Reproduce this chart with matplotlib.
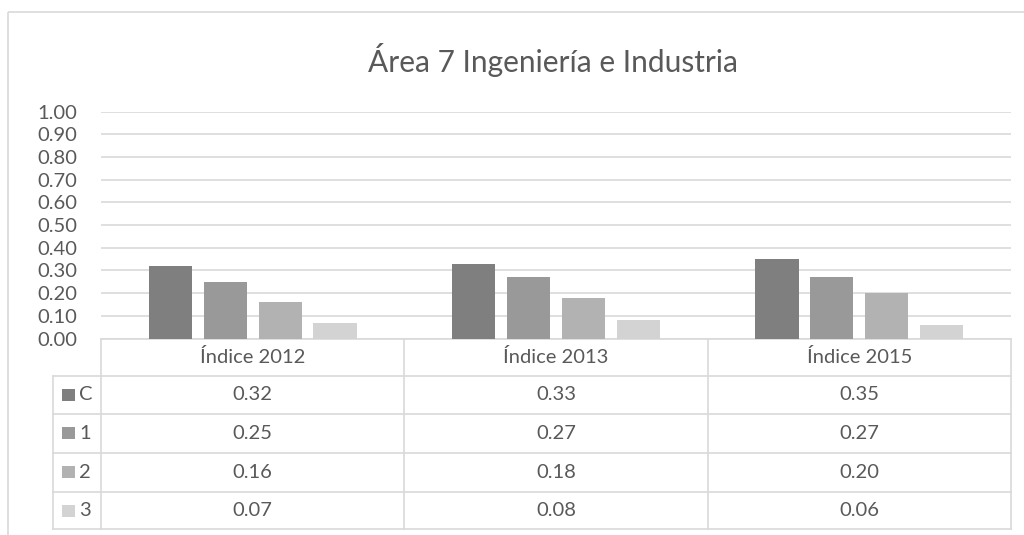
import matplotlib.pyplot as plt
from matplotlib.patches import Rectangle
from matplotlib.transforms import blended_transform_factory
import numpy as np

plt.rcParams['font.family'] = ['Lato', 'DejaVu Sans']

# data
title = 'Área 7 Ingeniería e Industria'
categories = ['Índice 2012', 'Índice 2013', 'Índice 2015']
series = ['C', '1', '2', '3']
values_c = [0.32, 0.33, 0.35]
values_1 = [0.25, 0.27, 0.27]
values_2 = [0.16, 0.18, 0.20]
values_3 = [0.07, 0.08, 0.06]
yticks = [0.0, 0.1, 0.2, 0.3, 0.4, 0.5, 0.6, 0.7, 0.8, 0.9, 1.0]

colors = ['#7f7f7f', '#999999', '#b2b2b2', '#d3d3d3']
text_color = '#595959'
line_color = '#d9d9d9'

W, H = 1024, 535
fig = plt.figure(figsize=(W / 100, H / 100), dpi=100)

# background axes in pixel coordinates (border, title, data table)
bg = fig.add_axes([0, 0, 1, 1])
bg.set_xlim(0, W)
bg.set_ylim(H, 0)
bg.axis('off')
bg.add_patch(Rectangle((8, 12), 1040, 540, fill=False, edgecolor=line_color, lw=1.2))
bg.text(553, 60, title, ha='center', va='center', fontsize=21.5, color=text_color)

# plot area
left, right, top, base = 101, 1011, 111.7, 338.5
ax = fig.add_axes([left / W, 1 - base / H, (right - left) / W, (base - top) / H])
ax.patch.set_alpha(0)
x = np.arange(len(categories))
step, width = 0.181, 0.142
all_values = [values_c, values_1, values_2, values_3]
for i, (vals, col) in enumerate(zip(all_values, colors)):
    ax.bar(x + (i - 1.5) * step, vals, width=width, color=col, zorder=3)

ax.set_xlim(-0.5, len(categories) - 0.5)
ax.set_ylim(0, 1)
ax.set_yticks(yticks)
ax.set_yticklabels([f'{t:.2f}' for t in yticks])
ax.set_xticks([])
ax.yaxis.grid(True, color=line_color, lw=1.2)
ax.set_axisbelow(True)
ax.tick_params(axis='y', length=0, pad=17, labelsize=14.5, labelcolor=text_color)
for s in ax.spines.values():
    s.set_visible(False)

# data table
tr = blended_transform_factory(ax.transData, bg.transData)
rows = [339, 375.7, 414, 452.7, 491.7, 529.3]
col_edges = [-0.5, 0.5, 1.5, 2.5]
leg_left = 53
for y in rows:
    x0 = left if y == rows[0] else leg_left
    bg.plot([x0, right], [y, y], color=line_color, lw=1.2)
bg.plot([leg_left, leg_left], [rows[1], rows[-1]], color=line_color, lw=1.2)
for ce in col_edges:
    bg.plot([ce, ce], [rows[0], rows[-1]], color=line_color, lw=1.2, transform=tr)

for j, cat in enumerate(categories):
    bg.text(j, (rows[0] + rows[1]) / 2, cat, ha='center', va='center', fontsize=14.5,
            color=text_color, transform=tr)
for i, (name, vals, col) in enumerate(zip(series, all_values, colors)):
    yc = (rows[i + 1] + rows[i + 2]) / 2
    bg.add_patch(Rectangle((62, yc - 6), 13, 12, color=col, lw=0))
    bg.text(79, yc, name, ha='left', va='center', fontsize=14.5, color=text_color)
    for j, v in enumerate(vals):
        bg.text(j, yc, f'{v:.2f}', ha='center', va='center', fontsize=14.5,
                color=text_color, transform=tr)

fig.savefig('out.png', dpi=100)
